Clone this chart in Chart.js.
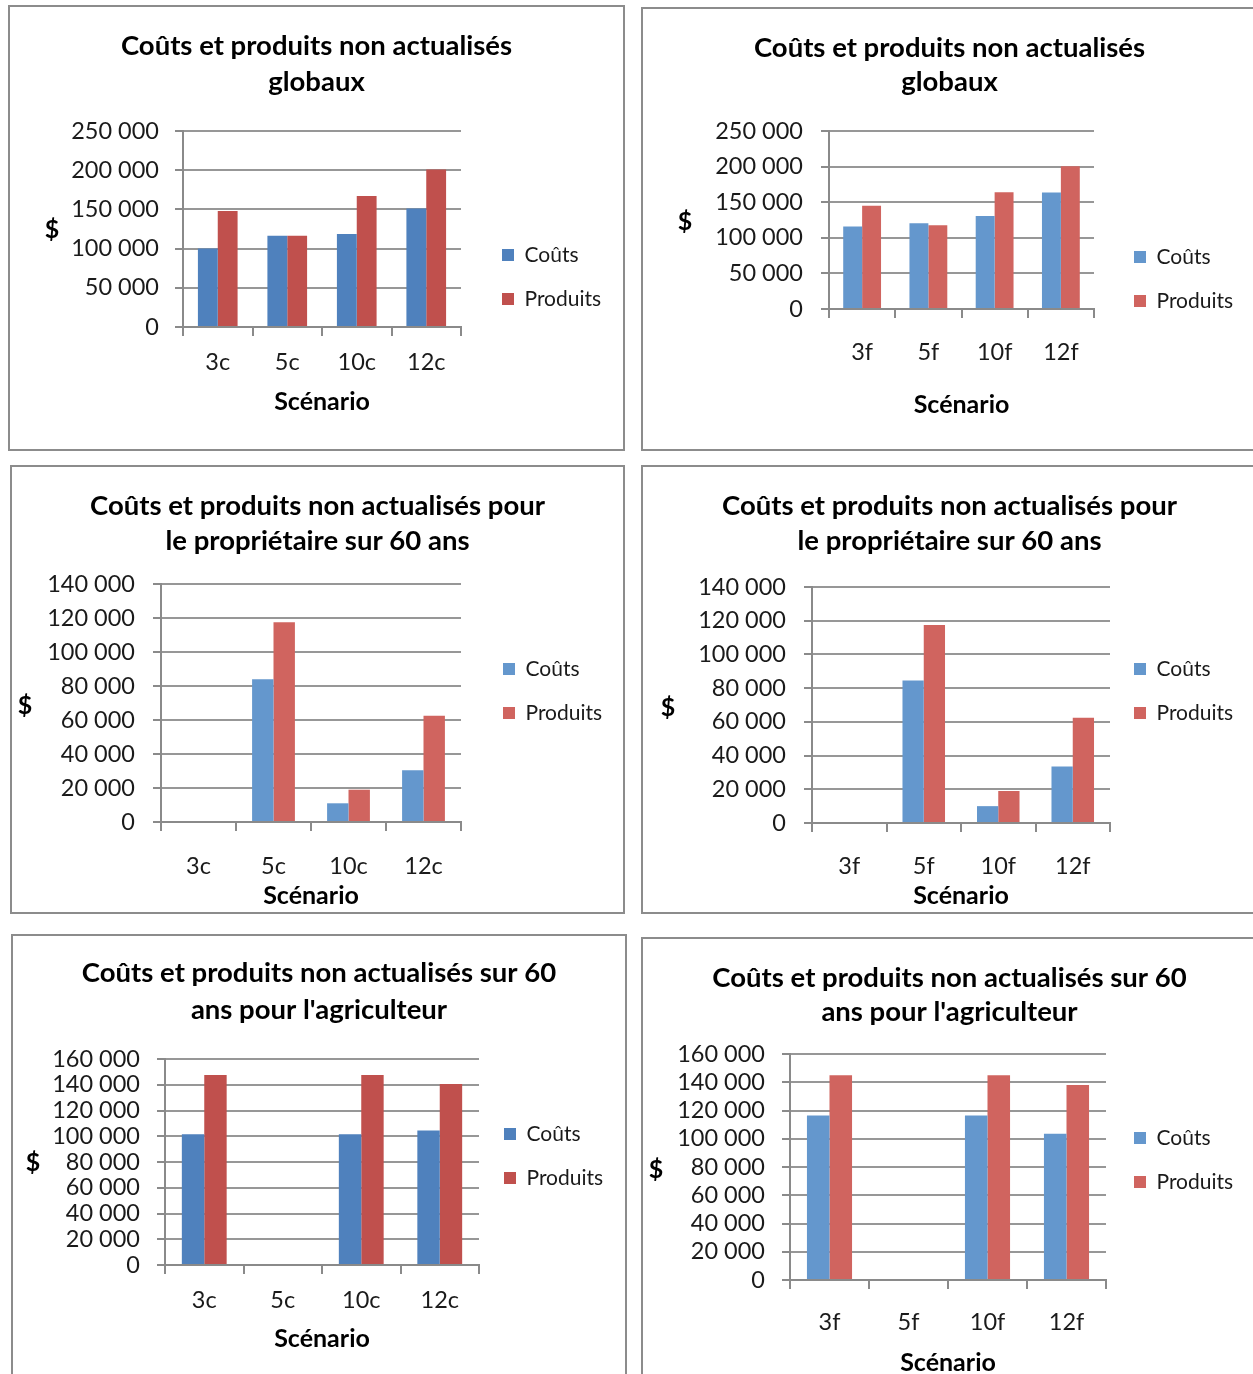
<!DOCTYPE html>
<html>
<head>
<meta charset="utf-8">
<script src="https://cdn.jsdelivr.net/npm/chart.js@4.4.1/dist/chart.umd.min.js"></script>
<style>
  html,body{margin:0;padding:0;background:#fff;}
  #wrap{position:relative;width:1253px;height:1374px;overflow:hidden;background:#fff;}
  .panel{position:absolute;}
  .panel canvas{position:absolute;left:0;top:0;}
  .frame{position:absolute;left:0;top:0;right:0;bottom:0;border:2px solid #8c8c8c;box-sizing:border-box;pointer-events:none;}
</style>
</head>
<body>
<div id="wrap"></div>
<script>
// ---------- DATA ----------
const scenariosC = ['3c', '5c', '10c', '12c'];
const scenariosF = ['3f', '5f', '10f', '12f'];
const seriesNames = ['Coûts', 'Produits'];
const xAxisTitle = 'Scénario';
const yAxisTitle = '$';

const titleGlobal = ['Coûts et produits non actualisés', 'globaux'];
const titleProp = ['Coûts et produits non actualisés pour', 'le propriétaire sur 60 ans'];
const titleAgri = ['Coûts et produits non actualisés sur 60', "ans pour l'agriculteur"];

const globalC_couts    = [100000, 116500, 118500, 151000];
const globalC_produits = [148000, 116500, 167000, 201000];
const globalF_couts    = [116000, 120500, 130500, 163500];
const globalF_produits = [145000, 117500, 164000, 200500];

const propC_couts    = [0, 84000, 11000, 30500];
const propC_produits = [0, 117500, 19000, 62500];
const propF_couts    = [0, 84500, 10000, 33500];
const propF_produits = [0, 117500, 19000, 62500];

const agriC_couts    = [101500, 0, 101500, 104500];
const agriC_produits = [147500, 0, 147500, 140500];
const agriF_couts    = [116500, 0, 116500, 103500];
const agriF_produits = [145000, 0, 145000, 138000];

const yMaxGlobal = 250000, yStepGlobal = 50000;
const yMaxProp = 140000, yStepProp = 20000;
const yMaxAgri = 160000, yStepAgri = 20000;

// ---------- STYLE ----------
const FONT = "Lato, 'Open Sans', sans-serif";
const DARK = ['#4F81BD', '#C0504D'];
const LIGHT = ['#6497CD', '#D0645F'];
const GRID = '#979797';
const AXIS = '#8a8a8a';
const TICK_FONT = 23.5, TITLE_FONT = 27.5, LEG_FONT = 21, AX_FONT = 25, DOLLAR_FONT = 25;

function fmt(v) { return String(v).replace(/\B(?=(\d{3})+(?!\d))/g, ' '); }

// layout of each panel (page coordinates)
const panels = [
  { box:[8,5,617,446], labels:scenariosC, couts:globalC_couts, produits:globalC_produits, title:titleGlobal, yMax:yMaxGlobal, yStep:yStepGlobal, colors:DARK,
    g:{plotL:183, plotR:461, plotT:131, plotB:327, labelR:159, dollarX:52, dollarY:230, legX:502, legY:255, titleY:46, titleLH:36, xLabelY:362, xTitleY:402} },
  { box:[641,7,617,444], labels:scenariosF, couts:globalF_couts, produits:globalF_produits, title:titleGlobal, yMax:yMaxGlobal, yStep:yStepGlobal, colors:LIGHT,
    g:{plotL:829, plotR:1094, plotT:131, plotB:309, labelR:803, dollarX:685, dollarY:222, legX:1134, legY:257, titleY:48, titleLH:34, xLabelY:352, xTitleY:405} },
  { box:[10,465,615,449], labels:scenariosC, couts:propC_couts, produits:propC_produits, title:titleProp, yMax:yMaxProp, yStep:yStepProp, colors:LIGHT,
    g:{plotL:161, plotR:461, plotT:584, plotB:822, labelR:135, dollarX:25, dollarY:706, legX:503, legY:669, titleY:506, titleLH:35, xLabelY:866, xTitleY:896} },
  { box:[641,465,617,449], labels:scenariosF, couts:propF_couts, produits:propF_produits, title:titleProp, yMax:yMaxProp, yStep:yStepProp, colors:LIGHT,
    g:{plotL:812, plotR:1110, plotT:587, plotB:823, labelR:786, dollarX:668, dollarY:708, legX:1134, legY:669, titleY:506, titleLH:35, xLabelY:866, xTitleY:896} },
  { box:[11,934,616,450], labels:scenariosC, couts:agriC_couts, produits:agriC_produits, title:titleAgri, yMax:yMaxAgri, yStep:yStepAgri, colors:DARK,
    g:{plotL:165, plotR:479, plotT:1059, plotB:1265, labelR:140, dollarX:33, dollarY:1163, legX:504, legY:1134, titleY:973, titleLH:37, xLabelY:1300, xTitleY:1339} },
  { box:[641,937,617,450], labels:scenariosF, couts:agriF_couts, produits:agriF_produits, title:titleAgri, yMax:yMaxAgri, yStep:yStepAgri, colors:LIGHT,
    g:{plotL:790, plotR:1106, plotT:1054, plotB:1280, labelR:765, dollarX:656, dollarY:1170, legX:1134, legY:1138, titleY:978, titleLH:34, xLabelY:1322, xTitleY:1363} }
];

const LEG_PAD = 23;

const legendPlace = {
  id: 'legendPlace',
  beforeInit(chart) {
    const lg = chart.legend;
    const origFit = lg.fit;
    lg.fit = function () {
      origFit.call(this);
      this.width = chart.options.plugins.legendPlace.width;
    };
  },
  afterLayout(chart, args, o) {
    const lg = chart.legend;
    const w = lg.width, h = lg.height;
    lg.left = o.x - LEG_PAD;
    lg.right = lg.left + w;
    lg.top = o.y - LEG_PAD - LEG_FONT / 2;
    lg.bottom = lg.top + h;
  }
};

const dollarLabel = {
  id: 'dollarLabel',
  afterDraw(chart, args, o) {
    const ctx = chart.ctx;
    ctx.save();
    ctx.font = 'bold ' + DOLLAR_FONT + 'px ' + FONT;
    ctx.fillStyle = '#000';
    ctx.textAlign = 'center';
    ctx.textBaseline = 'middle';
    ctx.fillText(o.text, o.x, o.y);
    ctx.restore();
  }
};

const wrap = document.getElementById('wrap');

panels.forEach(p => {
  const [px, py, pw, ph] = p.box;
  const g = p.g;
  const div = document.createElement('div');
  div.className = 'panel';
  div.style.left = px + 'px'; div.style.top = py + 'px';
  div.style.width = pw + 'px'; div.style.height = ph + 'px';
  const cv = document.createElement('canvas');
  cv.width = pw; cv.height = ph;
  cv.style.width = pw + 'px'; cv.style.height = ph + 'px';
  div.appendChild(cv);
  const fr = document.createElement('div'); fr.className = 'frame';
  div.appendChild(fr);
  wrap.appendChild(div);

  const L = g.plotL - px, R = g.plotR - px, T = g.plotT - py, B = g.plotB - py;
  const yTick = 8, xTick = 9;
  const tickLH = TICK_FONT * 1.2;
  const axLH = AX_FONT * 1.2;
  const titlePadTop = (g.titleY - py) - g.titleLH / 2;
  const titlePadBottom = T - titlePadTop - 2 * g.titleLH;
  const xLabelPad = (g.xLabelY - g.plotB) - xTick - tickLH / 2;
  const xTitlePadBottom = ph - (g.xTitleY - py) - axLH / 2;
  const yPad = g.plotL - yTick - g.labelR;

  new Chart(cv, {
    type: 'bar',
    data: {
      labels: p.labels,
      datasets: [
        { label: seriesNames[0], data: p.couts, backgroundColor: p.colors[0], borderWidth: 0 },
        { label: seriesNames[1], data: p.produits, backgroundColor: p.colors[1], borderWidth: 0 }
      ]
    },
    options: {
      responsive: false,
      animation: false,
      devicePixelRatio: 1,
      layout: { padding: 0 },
      datasets: { bar: { categoryPercentage: 0.571, barPercentage: 1.0 } },
      scales: {
        x: {
          grid: { display: true, drawOnChartArea: false, drawTicks: true, tickLength: xTick, color: AXIS, lineWidth: 2, offset: true },
          border: { display: true, color: AXIS, width: 2 },
          ticks: { font: { family: FONT, size: TICK_FONT }, color: '#1a1a1a', padding: xLabelPad, maxRotation: 0, autoSkip: false },
          title: { display: true, text: xAxisTitle, font: { family: FONT, size: AX_FONT, weight: 'bold' }, color: '#000', padding: { top: 0, bottom: xTitlePadBottom } },
          afterFit(s) { s.height = ph - B; }
        },
        y: {
          min: 0, max: p.yMax,
          ticks: { stepSize: p.yStep, autoSkip: false, callback: v => fmt(v), font: { family: FONT, size: TICK_FONT }, color: '#1a1a1a', padding: yPad },
          grid: { color: GRID, lineWidth: 2, tickLength: yTick, drawTicks: true, tickColor: AXIS },
          border: { display: true, color: AXIS, width: 2 },
          afterFit(s) { s.width = L; }
        }
      },
      plugins: {
        title: { display: true, text: p.title, color: '#000',
                 font: { family: FONT, size: TITLE_FONT, weight: 'bold', lineHeight: g.titleLH + 'px' },
                 padding: { top: titlePadTop, bottom: titlePadBottom } },
        legend: { display: true, position: 'right', align: 'start',
                  labels: { boxWidth: 12, boxHeight: 12, padding: LEG_PAD, color: '#1a1a1a', font: { family: FONT, size: LEG_FONT } } },
        tooltip: { enabled: false },
        legendPlace: { width: pw - R, x: g.legX - px, y: g.legY - py },
        dollarLabel: { text: yAxisTitle, x: g.dollarX - px, y: g.dollarY - py }
      }
    },
    plugins: [legendPlace, dollarLabel]
  });
});
</script>
</body>
</html>
